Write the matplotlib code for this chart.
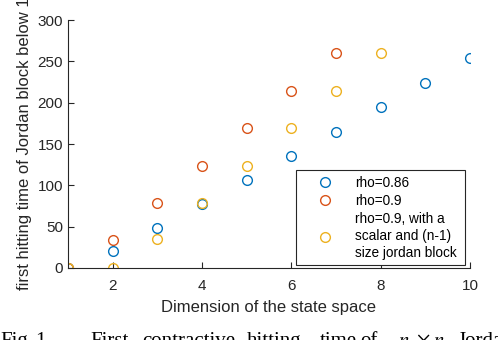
import matplotlib
matplotlib.use("Agg")
import matplotlib.pyplot as plt

plt.rcParams['font.family'] = ['Liberation Sans', 'DejaVu Sans']
plt.rcParams['mathtext.fontset'] = 'stix'

dims_086 = [1, 2, 3, 4, 5, 6, 7, 8, 9, 10]
times_086 = [0, 21, 48, 78, 107, 136, 165, 195, 224, 254]
dims_09 = [1, 2, 3, 4, 5, 6, 7]
times_09 = [0, 34, 79, 123, 169, 214, 260]
dims_09s = [1, 2, 3, 4, 5, 6, 7, 8]
times_09s = [0, 0, 35, 79, 123, 169, 214, 260]

labels = ["rho=0.86", "rho=0.9",
          "rho=0.9, with a\nscalar and (n-1)\nsize jordan block"]
colors = ['#0072BD', '#D95319', '#EDB120']

fig = plt.figure(figsize=(4.98, 3.40), dpi=100)
ax = fig.add_axes([0.1365, 0.2118, 0.8073, 0.7292])

ax.plot(dims_086, times_086, 'o', mfc='none', mec=colors[0], ms=7, mew=1.0, label=labels[0])
ax.plot(dims_09, times_09, 'o', mfc='none', mec=colors[1], ms=7, mew=1.0, label=labels[1])
ax.plot(dims_09s, times_09s, 'o', mfc='none', mec=colors[2], ms=7, mew=1.0, label=labels[2])

ax.set_xlim(1, 10)
ax.set_ylim(0, 300)
ax.set_xticks([2, 4, 6, 8, 10])
ax.set_yticks([0, 50, 100, 150, 200, 250, 300])
for s in ['top', 'right']:
    ax.spines[s].set_visible(False)
for s in ['left', 'bottom']:
    ax.spines[s].set_color('#262626')
    ax.spines[s].set_linewidth(0.8)
ax.tick_params(direction='in', length=4, width=0.8, color='#262626',
               labelsize=11, labelcolor='#262626')
ax.tick_params(axis='x', pad=8)

ax.set_xlabel("Dimension of the state space", fontsize=12, color='#262626', labelpad=5)
ax.set_ylabel("first hitting time of Jordan block below 1", fontsize=12,
              color='#262626', labelpad=4)

leg = ax.legend(loc='lower left', bbox_to_anchor=(0.567, 0.012, 0.4206, 0.38),
                mode='expand', fontsize=9.8,
                fancybox=False, edgecolor='#262626', framealpha=1,
                handlelength=3.5, handletextpad=0.47, labelspacing=0.3,
                borderpad=0.4, borderaxespad=0)
leg.get_frame().set_linewidth(0.8)
for t in leg.get_texts():
    t.set_linespacing(1.25)

# caption below the figure, justified like the paper (only its top shows)
caption = ["Fig.", "1.", "First", "contractive", "hitting", "time", "of",
           "$n$", r"$\times$", "$n$", "Jordan"]
caption_px = [0, 35, 90, 142, 247, 320, 360, 398, 416, 433, 458]
for word, px in zip(caption, caption_px):
    fig.text(px / 498, -0.019, word, family=['Liberation Serif', 'DejaVu Serif'],
             fontsize=15, va='baseline', ha='left')

fig.savefig("out.png", dpi=100)
